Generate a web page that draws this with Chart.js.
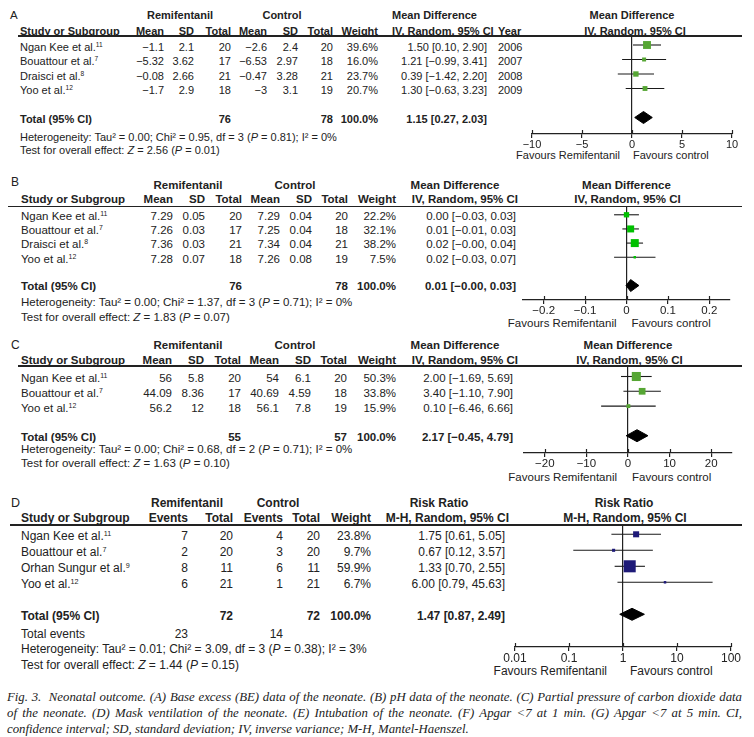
<!DOCTYPE html>
<html>
<head>
<meta charset="utf-8">
<script src="https://cdn.jsdelivr.net/npm/chart.js@4.4.0/dist/chart.umd.min.js"></script>
<style>
  body { margin: 0; background: #fff; width: 754px; height: 737px; overflow: hidden; position: relative;
         font-family: "Liberation Sans", Arial, sans-serif; color: #222; }
  .t { position: absolute; white-space: nowrap; line-height: 14px; height: 14px; }
  .b { font-weight: bold; }
  sup { font-size: 0.6em; line-height: 0; vertical-align: 0.55em; }
  canvas { position: absolute; }
  .rule { position: absolute; height: 1.6px; background: #222; }
  .cap { position: absolute; left: 7px; width: 735px; font-family: "Liberation Serif", serif; font-style: italic;
         font-size: 12.8px; line-height: 15px; color: #222; }
  .just { text-align: justify; text-align-last: justify; }
</style>
</head>
<body>
<script>
// ---- A: base excess ----
const studiesA = ['Ngan Kee et al.', 'Bouattour et al.', 'Draisci et al.', 'Yoo et al.'];
const refsA = ['11', '7', '8', '12'];
const remiMeanA = [-1.1, -5.32, -0.08, -1.7];
const remiSdA = [2.1, 3.62, 2.66, 2.9];
const remiNA = [20, 17, 21, 18];
const ctrlMeanA = [-2.6, -6.53, -0.47, -3];
const ctrlSdA = [2.4, 2.97, 3.28, 3.1];
const ctrlNA = [20, 18, 21, 19];
const weightA = [39.6, 16.0, 23.7, 20.7];
const mdA = [1.50, 1.21, 0.39, 1.30];
const loA = [0.10, -0.99, -1.42, -0.63];
const hiA = [2.90, 3.41, 2.20, 3.23];
const yearA = [2006, 2007, 2008, 2009];
const totalA = [1.15, 0.27, 2.03];
const hetA = ['0.00', '0.95', '3', '0.81', '0'];
const testA = ['2.56', '0.01'];
const ticksA = [-10, -5, 0, 5, 10];

// ---- B: pH ----
const studiesB = ['Ngan Kee et al.', 'Bouattour et al.', 'Draisci et al.', 'Yoo et al.'];
const refsB = ['11', '7', '8', '12'];
const remiMeanB = [7.29, 7.26, 7.36, 7.28];
const remiSdB = [0.05, 0.03, 0.03, 0.07];
const remiNB = [20, 17, 21, 18];
const ctrlMeanB = [7.29, 7.25, 7.34, 7.26];
const ctrlSdB = [0.04, 0.04, 0.04, 0.08];
const ctrlNB = [20, 18, 21, 19];
const weightB = [22.2, 32.1, 38.2, 7.5];
const mdB = [0.00, 0.01, 0.02, 0.02];
const loB = [-0.03, -0.01, -0.001, -0.03];
const hiB = [0.03, 0.03, 0.04, 0.07];
const totalB = [0.01, -0.001, 0.03];
const hetB = ['0.00', '1.37', '3', '0.71', '0'];
const testB = ['1.83', '0.07'];
const ticksB = [-0.2, -0.1, 0, 0.1, 0.2];

// ---- C: PaCO2 ----
const studiesC = ['Ngan Kee et al.', 'Bouattour et al.', 'Yoo et al.'];
const refsC = ['11', '7', '12'];
const remiMeanC = [56, 44.09, 56.2];
const remiSdC = [5.8, 8.36, 12];
const remiNC = [20, 17, 18];
const ctrlMeanC = [54, 40.69, 56.1];
const ctrlSdC = [6.1, 4.59, 7.8];
const ctrlNC = [20, 18, 19];
const weightC = [50.3, 33.8, 15.9];
const mdC = [2.00, 3.40, 0.10];
const loC = [-1.69, -1.10, -6.46];
const hiC = [5.69, 7.90, 6.66];
const totalC = [2.17, -0.45, 4.79];
const hetC = ['0.00', '0.68', '2', '0.71', '0'];
const testC = ['1.63', '0.10'];
const ticksC = [-20, -10, 0, 10, 20];

// ---- D: mask ventilation ----
const studiesD = ['Ngan Kee et al.', 'Bouattour et al.', 'Orhan Sungur et al.', 'Yoo et al.'];
const refsD = ['11', '7', '9', '12'];
const remiEvD = [7, 2, 8, 6];
const remiND = [20, 20, 11, 21];
const ctrlEvD = [4, 3, 6, 1];
const ctrlND = [20, 20, 11, 21];
const weightD = [23.8, 9.7, 59.9, 6.7];
const rrD = [1.75, 0.67, 1.33, 6.00];
const loD = [0.61, 0.12, 0.70, 0.79];
const hiD = [5.05, 3.57, 2.55, 45.63];
const totalD = [1.47, 0.87, 2.49];
const hetD = ['0.01', '3.09', '3', '0.38', '3'];
const testD = ['1.44', '0.15'];
const ticksD = [0.01, 0.1, 1, 10, 100];

const MINUS = '\u2212';
const fmt = v => (v < 0 ? MINUS + String(-v) : String(v));
const fmt2 = v => (v < 0 ? MINUS : '') + Math.abs(v).toFixed(2);
const ciText = (e, l, h) => fmt2(e) + ' [' + fmt2(l) + ', ' + fmt2(h) + ']';
const sum = a => a.reduce((s, v) => s + v, 0);

function put(html, x, y, align, size, bold) {
  const d = document.createElement('div');
  d.className = 't' + (bold ? ' b' : '');
  d.innerHTML = html;
  d.style.fontSize = size + 'px';
  d.style.top = (y - 7) + 'px';
  if (align === 'r') d.style.right = (754 - x) + 'px';
  else if (align === 'c') { d.style.left = x + 'px'; d.style.transform = 'translateX(-50%)'; }
  else d.style.left = x + 'px';
  document.body.appendChild(d);
}

function rule(x0, x1, y) {
  const d = document.createElement('div');
  d.className = 'rule';
  d.style.left = x0 + 'px';
  d.style.width = (x1 - x0) + 'px';
  d.style.top = (y - 0.8) + 'px';
  document.body.appendChild(d);
}

function table(p) {
  const fs = p.fs;
  put(p.letter, p.letterX, p.letterY, 'l', fs + 0.5, false);
  put('Remifentanil', p.grp[0], p.h1Y, 'c', fs, true);
  put('Control', p.grp[1], p.h1Y, 'c', fs, true);
  put('Study or Subgroup', p.nameX, p.h2Y, 'l', fs, true);
  p.heads.forEach((h, j) => put(h, p.colX[j], p.h2Y, 'r', fs, true));
  put(p.ciHead[0], p.ciHeadX[0], p.h1Y, p.ciHeadAlign[0], fs, true);
  put(p.ciHead[1], p.ciHeadX[1], p.h2Y, p.ciHeadAlign[1], fs, true);
  if (p.yearX) put('Year', p.yearX, p.h2Y, 'l', fs, true);
  put(p.ciHead[0], p.zero + p.rhOff[0], p.h1Y, 'c', fs, true);
  put(p.ciHead[1], p.zero + p.rhOff[1], p.h2Y, 'c', fs, true);
  rule(p.lineX0, 742, p.lineY);

  p.names.forEach((n, i) => {
    const y = p.row0 + i * p.step + p.txtOff;
    put(n + '<sup>' + p.refs[i] + '</sup>', p.nameX, y, 'l', fs, false);
    p.cols.forEach((col, j) => put(fmt(col[i]), p.colX[j], y, 'r', fs, false));
    put(p.weight[i].toFixed(1) + '%', p.colX[p.cols.length], y, 'r', fs, false);
    put(ciText(p.est[i], p.lo[i], p.hi[i]), p.ciX, y, 'r', fs, false);
    if (p.years) put(String(p.years[i]), p.yearX, y, 'l', fs, false);
  });

  put('Total (95% CI)', p.nameX, p.totY, 'l', fs, true);
  p.totCols.forEach(j => put(String(sum(p.cols[j])), p.colX[j], p.totY, 'r', fs, true));
  put('100.0%', p.colX[p.cols.length], p.totY, 'r', fs, true);
  put(ciText(p.tot[0], p.tot[1], p.tot[2]), p.ciX, p.totY, 'r', fs, true);
  if (p.evY) {
    put('Total events', p.nameX, p.evY, 'l', fs, false);
    p.evCols.forEach(j => put(String(sum(p.cols[j])), p.colX[j], p.evY, 'r', fs, false));
  }
  const h = p.het;
  put('Heterogeneity: Tau\u00b2 = ' + h[0] + '; Chi\u00b2 = ' + h[1] + ', df = ' + h[2] +
      ' (<i>P</i> = ' + h[3] + '); I\u00b2 = ' + h[4] + '%', p.nameX, p.hetY, 'l', fs, false);
  put('Test for overall effect: <i>Z</i> = ' + p.test[0] + ' (<i>P</i> = ' + p.test[1] + ')',
      p.nameX, p.testY, 'l', fs, false);
  put('Favours Remifentanil', p.zero - p.favGap[0], p.favY, 'r', fs, false);
  put('Favours control', p.zero + p.favGap[1], p.favY, 'l', fs, false);
}

// tick marks that also reach above the axis line, as RevMan draws them
const crossTicks = {
  id: 'crossTicks',
  afterDraw(chart) {
    const sx = chart.scales.x, ctx = chart.ctx, y = chart.chartArea.bottom;
    ctx.save();
    ctx.strokeStyle = '#222';
    ctx.lineWidth = 1.2;
    sx.ticks.forEach(t => {
      const x = Math.round(sx.getPixelForValue(t.value)) + 0.5;
      ctx.beginPath();
      ctx.moveTo(x, y - 4);
      ctx.lineTo(x, y);
      ctx.stroke();
    });
    ctx.restore();
  }
};

function forest(p) {
  const left = 495, W = 255, axisH = 22;
  const cv = document.createElement('canvas');
  cv.width = W;
  cv.height = p.axisY - p.lineY + axisH;
  cv.style.left = left + 'px';
  cv.style.top = p.lineY + 'px';
  document.body.appendChild(cv);

  const n = p.est.length;
  const totRow = n + 1;
  const half = 6 / p.step;
  const datasets = [{
    data: p.est.map((v, i) => ({ x: v, y: i })),
    pointStyle: 'rect',
    pointRadius: p.weight.map(w => Math.max(2.5, p.box * Math.pow(w, 0.75)) / Math.SQRT2),
    backgroundColor: p.color,
    borderWidth: 0,
    order: 0
  }, {
    data: [
      { x: p.tot[1], y: totRow }, { x: p.tot[0], y: totRow - half },
      { x: p.tot[2], y: totRow }, { x: p.tot[0], y: totRow + half }, { x: p.tot[1], y: totRow }
    ],
    showLine: true, fill: 'shape', pointRadius: 0,
    borderColor: '#000', backgroundColor: '#000', borderWidth: 1, order: 0
  }];
  p.est.forEach((v, i) => datasets.push({
    data: [{ x: p.lo[i], y: i }, { x: p.hi[i], y: i }],
    showLine: true, pointRadius: 0, borderColor: '#1a1a1a', borderWidth: 1.1, order: 1
  }));

  new Chart(cv, {
    type: 'scatter',
    data: { datasets },
    plugins: [crossTicks],
    options: {
      responsive: false, animation: false, events: [],
      layout: { autoPadding: false, padding: { left: p.xL - left, right: left + W - p.xR, top: 0, bottom: 0 } },
      plugins: { legend: { display: false }, tooltip: { enabled: false } },
      scales: {
        x: {
          type: p.log ? 'logarithmic' : 'linear',
          min: p.xMin, max: p.xMax,
          afterBuildTicks: s => { s.ticks = p.ticks.map(v => ({ value: v })); },
          afterFit: s => { s.height = axisH; },
          ticks: {
            callback: (v, i) => fmt(p.ticks[i]),
            font: { family: '"Liberation Sans", Arial, sans-serif', size: p.fs },
            color: '#222', padding: 0, maxRotation: 0, autoSkip: false
          },
          grid: {
            color: c => (c.tick && c.tick.value === p.ref ? '#222' : 'rgba(0,0,0,0)'),
            lineWidth: 1.2, tickLength: 4, tickColor: '#222', tickWidth: 1.2
          },
          border: { display: true, color: '#222', width: 1.2 }
        },
        y: {
          type: 'linear', reverse: true, display: false,
          min: (p.lineY - p.row0) / p.step, max: (p.axisY - p.row0) / p.step
        }
      }
    }
  });
}

const panels = [
  {
    letter: 'A', fs: 11, letterX: 10, letterY: 14.5, h1Y: 15, h2Y: 30.5, lineY: 36, lineX0: 18,
    row0: 45, step: 14.5, txtOff: 1.5, totY: 119, hetY: 136.5, testY: 150, favY: 155, axisY: 134,
    grp: [180, 282], nameX: 20,
    heads: ['Mean', 'SD', 'Total', 'Mean', 'SD', 'Total', 'Weight'],
    colX: [164, 194, 231, 267, 298, 333, 378],
    cols: [remiMeanA, remiSdA, remiNA, ctrlMeanA, ctrlSdA, ctrlNA], totCols: [2, 5],
    ciHead: ['Mean Difference', 'IV, Random, 95% CI'], ciHeadX: [392, 392], ciHeadAlign: ['l', 'l'],
    ciX: 487, yearX: 498, years: yearA, rhOff: [0, 3],
    names: studiesA, refs: refsA, weight: weightA, est: mdA, lo: loA, hi: hiA, tot: totalA,
    het: hetA, test: testA, ticks: ticksA, xMin: -10, xMax: 10, xL: 532, xR: 732, zero: 632, ref: 0,
    favGap: [12, 1], color: '#56a634', box: 0.5
  },
  {
    letter: 'B', fs: 11.5, letterX: 11, letterY: 182, h1Y: 185, h2Y: 199, lineY: 206.7, lineX0: 8,
    row0: 214.5, step: 14.2, txtOff: 1.5, totY: 286, hetY: 302, testY: 317, favY: 323, axisY: 300,
    grp: [188, 295], nameX: 21,
    heads: ['Mean', 'SD', 'Total', 'Mean', 'SD', 'Total', 'Weight'],
    colX: [173, 205, 242, 280, 312, 348, 396],
    cols: [remiMeanB, remiSdB, remiNB, ctrlMeanB, ctrlSdB, ctrlNB], totCols: [2, 5],
    ciHead: ['Mean Difference', 'IV, Random, 95% CI'], ciHeadX: [455, 518], ciHeadAlign: ['c', 'r'],
    ciX: 516, rhOff: [0, 1],
    names: studiesB, refs: refsB, weight: weightB, est: mdB, lo: loB, hi: hiB, tot: totalB,
    het: hetB, test: testB, ticks: ticksB, xMin: -0.25, xMax: 0.25, xL: 523, xR: 730, zero: 626.5, ref: 0,
    favGap: [10, 5], color: '#00c000', box: 0.52
  },
  {
    letter: 'C', fs: 11.5, letterX: 11, letterY: 345, h1Y: 345, h2Y: 359.5, lineY: 366, lineX0: 18,
    row0: 376.5, step: 14.8, txtOff: 1.5, totY: 437.3, hetY: 448.5, testY: 462.5, favY: 477, axisY: 453,
    grp: [188, 295], nameX: 21,
    heads: ['Mean', 'SD', 'Total', 'Mean', 'SD', 'Total', 'Weight'],
    colX: [172, 204, 241, 279, 311, 347, 396],
    cols: [remiMeanC, remiSdC, remiNC, ctrlMeanC, ctrlSdC, ctrlNC], totCols: [2, 5],
    ciHead: ['Mean Difference', 'IV, Random, 95% CI'], ciHeadX: [455, 518], ciHeadAlign: ['c', 'r'],
    ciX: 513, rhOff: [0, 1.5],
    names: studiesC, refs: refsC, weight: weightC, est: mdC, lo: loC, hi: hiC, tot: totalC,
    het: hetC, test: testC, ticks: ticksC, xMin: -25, xMax: 25, xL: 524, xR: 732, zero: 628, ref: 0,
    favGap: [11, 4], color: '#56a634', box: 0.48
  },
  {
    letter: 'D', fs: 12, letterX: 11, letterY: 503.3, h1Y: 503.3, h2Y: 518.3, lineY: 525, lineX0: 10,
    row0: 534.3, step: 16, txtOff: 1.5, totY: 616, evY: 634, hetY: 649, testY: 665, favY: 671, axisY: 647,
    grp: [187, 278], nameX: 21,
    heads: ['Events', 'Total', 'Events', 'Total', 'Weight'],
    colX: [188, 233, 283, 320, 371],
    cols: [remiEvD, remiND, ctrlEvD, ctrlND], totCols: [1, 3], evCols: [0, 2],
    ciHead: ['Risk Ratio', 'M-H, Random, 95% CI'], ciHeadX: [439, 509], ciHeadAlign: ['c', 'r'],
    ciX: 505, rhOff: [1, 2],
    names: studiesD, refs: refsD, weight: weightD, est: rrD, lo: loD, hi: hiD, tot: totalD,
    het: hetD, test: testD, ticks: ticksD, xMin: 0.01, xMax: 100, xL: 515, xR: 731, zero: 623, ref: 1, log: true,
    favGap: [16, 7], color: '#1e1a78', box: 0.56
  }
];

panels.forEach(p => { table(p); forest(p); });

const capLines = [
  'Fig. 3.&nbsp; Neonatal outcome. (A) Base excess (BE) data of the neonate. (B) pH data of the neonate. (C) Partial pressure of carbon dioxide data',
  'of the neonate. (D) Mask ventilation of the neonate. (E) Intubation of the neonate. (F) Apgar &lt;7 at 1 min. (G) Apgar &lt;7 at 5 min. CI,',
  'confidence interval; SD, standard deviation; IV, inverse variance; M-H, Mantel-Haenszel.'
];
const capY = [697.5, 713.5, 729];
capLines.forEach((s, i) => {
  const d = document.createElement('div');
  d.className = 'cap' + (i < 2 ? ' just' : '');
  d.innerHTML = s;
  d.style.top = (capY[i] - 7.5) + 'px';
  document.body.appendChild(d);
});
</script>
</body>
</html>
